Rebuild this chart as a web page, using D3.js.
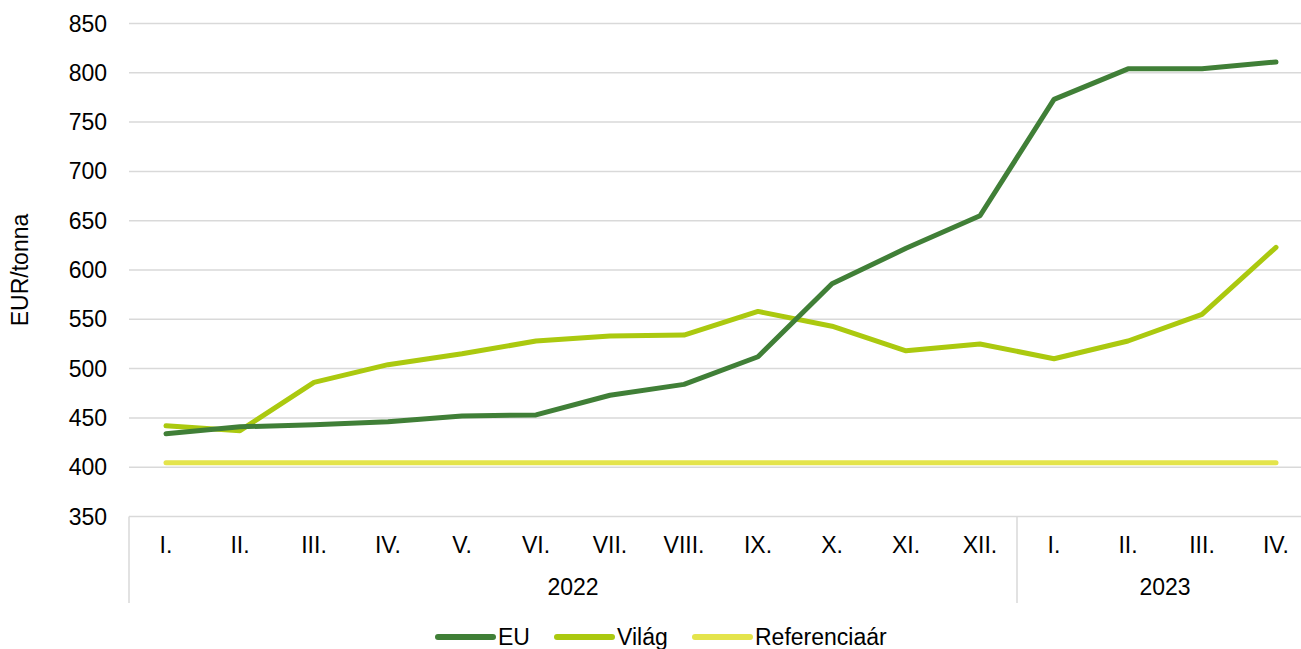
<!DOCTYPE html>
<html>
<head>
<meta charset="utf-8">
<script src="https://cdn.jsdelivr.net/npm/d3@7"></script>
<style>
  html, body { margin: 0; padding: 0; background: #fff; }
  svg { display: block; font-family: "Liberation Sans", Arial, sans-serif; }
</style>
</head>
<body>
<div id="chart"></div>
<script>
// data
var months = ["I.", "II.", "III.", "IV.", "V.", "VI.", "VII.", "VIII.", "IX.", "X.", "XI.", "XII.", "I.", "II.", "III.", "IV."];
var years = ["2022", "2023"];
var monthsPerYear = [12, 4];
var eu = [434, 441, 443, 446, 452, 453, 473, 484, 512, 586, 622, 655, 773, 804, 804, 811];
var vilag = [442, 437, 486, 504, 515, 528, 533, 534, 558, 543, 518, 525, 510, 528, 555, 623];
var referencia = [404.4, 404.4, 404.4, 404.4, 404.4, 404.4, 404.4, 404.4, 404.4, 404.4, 404.4, 404.4, 404.4, 404.4, 404.4, 404.4];
var yTicks = [350, 400, 450, 500, 550, 600, 650, 700, 750, 800, 850];

var seriesNames = ["EU", "Világ", "Referenciaár"];
var seriesColors = ["#407f37", "#abc90f", "#e4e44c"];

function init() {
    var w = 1301;
    var h = 649;
    var left = 129;
    var step = 74;

    var svg = d3.select("#chart")
        .append("svg")
        .attr("width", w)
        .attr("height", h);

    var x = d3.scaleBand()
        .domain(d3.range(months.length))
        .range([left, left + step * months.length])
        .padding(0);

    var y = d3.scaleLinear()
        .domain([350, 850])
        .range([516.5, 23.5]);

    var cx = function(i) { return x(i) + x.bandwidth() / 2; };

    // gridlines
    svg.append("g")
        .selectAll("line")
        .data(yTicks)
        .enter()
        .append("line")
        .attr("x1", left)
        .attr("x2", left + step * months.length)
        .attr("y1", function(d) { return y(d); })
        .attr("y2", function(d) { return y(d); })
        .attr("stroke", "#d9d9d9")
        .attr("stroke-width", 1.5);

    // y tick labels
    svg.append("g")
        .selectAll("text")
        .data(yTicks)
        .enter()
        .append("text")
        .attr("x", 107)
        .attr("y", function(d) { return y(d); })
        .attr("dy", "0.35em")
        .attr("text-anchor", "end")
        .attr("font-size", 23)
        .attr("fill", "#000")
        .text(function(d) { return d; });

    // y axis title
    svg.append("text")
        .attr("transform", "translate(20," + 270 + ") rotate(-90)")
        .attr("text-anchor", "middle")
        .attr("dy", "0.35em")
        .attr("font-size", 23)
        .text("EUR/tonna");

    // category axis: month labels
    svg.append("g")
        .selectAll("text")
        .data(months)
        .enter()
        .append("text")
        .attr("x", function(d, i) { return cx(i); })
        .attr("y", 553)
        .attr("text-anchor", "middle")
        .attr("font-size", 23)
        .text(function(d) { return d; });

    // year groups with separators
    var start = 0;
    var bounds = [0];
    monthsPerYear.forEach(function(n) { start += n; bounds.push(start); });

    svg.append("g")
        .selectAll("line")
        .data(bounds)
        .enter()
        .append("line")
        .attr("x1", function(d) { return left + d * x.bandwidth(); })
        .attr("x2", function(d) { return left + d * x.bandwidth(); })
        .attr("y1", y(350))
        .attr("y2", 603)
        .attr("stroke", "#d9d9d9")
        .attr("stroke-width", 1.5);

    svg.append("g")
        .selectAll("text")
        .data(years)
        .enter()
        .append("text")
        .attr("x", function(d, i) {
            return left + (bounds[i] + bounds[i + 1]) / 2 * x.bandwidth();
        })
        .attr("y", 595)
        .attr("text-anchor", "middle")
        .attr("font-size", 23)
        .text(function(d) { return d; });

    // lines (reference drawn first, then Világ, then EU on top)
    var line = d3.line()
        .x(function(d, i) { return cx(i); })
        .y(function(d) { return y(d); });

    var allSeries = [eu, vilag, referencia];
    [2, 1, 0].forEach(function(k) {
        svg.append("path")
            .datum(allSeries[k])
            .attr("d", line)
            .attr("fill", "none")
            .attr("stroke", seriesColors[k])
            .attr("stroke-width", 5)
            .attr("stroke-linecap", "round")
            .attr("stroke-linejoin", "round");
    });

    // legend
    var legendX = [438, 557, 695];
    var legend = svg.append("g")
        .selectAll("g")
        .data(seriesNames)
        .enter()
        .append("g")
        .attr("transform", function(d, i) { return "translate(" + legendX[i] + ",637)"; });

    legend.append("line")
        .attr("x1", 0)
        .attr("x2", 55)
        .attr("stroke", function(d, i) { return seriesColors[i]; })
        .attr("stroke-width", 6)
        .attr("stroke-linecap", "round");

    legend.append("text")
        .attr("x", 60)
        .attr("y", 8)
        .attr("font-size", 23)
        .text(function(d) { return d; });
}
window.onload = init;
</script>
</body>
</html>
